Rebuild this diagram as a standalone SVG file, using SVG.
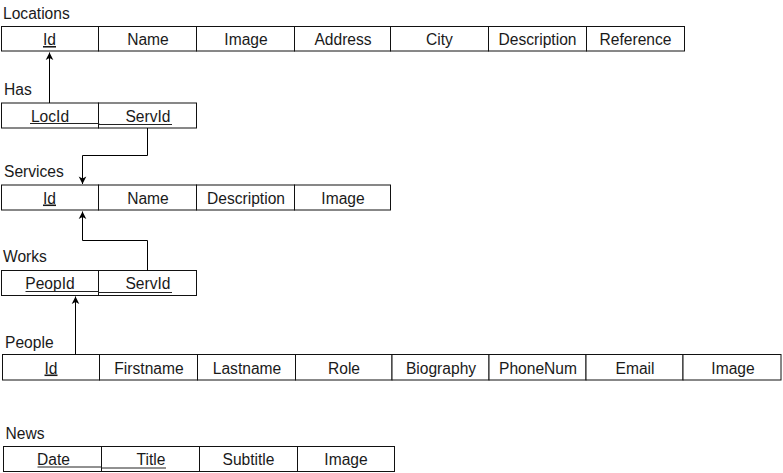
<svg xmlns="http://www.w3.org/2000/svg" width="783" height="473" viewBox="0 0 783 473">
<style>
.cell{fill:#fff;stroke:#111;stroke-width:1}
.t{font-family:"Liberation Sans",Arial,sans-serif;font-size:15.6px;fill:#1a1a1a;text-anchor:middle}
.lbl{font-family:"Liberation Sans",Arial,sans-serif;font-size:15.6px;fill:#1a1a1a}
.u{text-decoration:underline}
.ul{stroke:#222;stroke-width:1;fill:none}
.con{stroke:#000;stroke-width:1;fill:none;marker-end:url(#arr)}
</style>
<defs>
<marker id="arr" viewBox="-9 -5 10 10" refX="0" refY="0" markerWidth="10" markerHeight="10" markerUnits="userSpaceOnUse" orient="auto">
<path d="M0,0 L-7.5,-3.8 L-5.5,0 L-7.5,3.8 Z" fill="#000"/>
</marker>
</defs>
<rect width="783" height="473" fill="#fff"/>

<g id="locations">
<text class="lbl" x="3" y="18.5">Locations</text>
<rect class="cell" x="1.5" y="26.5" width="97" height="24.5"/>
<rect class="cell" x="98.5" y="26.5" width="98" height="24.5"/>
<rect class="cell" x="196.5" y="26.5" width="98" height="24.5"/>
<rect class="cell" x="294.5" y="26.5" width="96" height="24.5"/>
<rect class="cell" x="390.5" y="26.5" width="98" height="24.5"/>
<rect class="cell" x="488.5" y="26.5" width="98" height="24.5"/>
<rect class="cell" x="586.5" y="26.5" width="98" height="24.5"/>
<text class="t u" x="49.5" y="45">Id</text>
<text class="t" x="148" y="45">Name</text>
<text class="t" x="246" y="45">Image</text>
<text class="t" x="343" y="45">Address</text>
<text class="t" x="439.5" y="45">City</text>
<text class="t" x="537.5" y="45">Description</text>
<text class="t" x="635.5" y="45">Reference</text>
</g>

<g id="has">
<text class="lbl" x="4" y="95">Has</text>
<rect class="cell" x="1.5" y="103" width="97" height="25"/>
<rect class="cell" x="98.5" y="103" width="98" height="25"/>
<text class="t" x="50" y="121.5">LocId</text>
<text class="t" x="148" y="121.5">ServId</text>
<polyline class="ul" points="30,123.5 99,123.5 99,124.5 172,124.5"/>
</g>

<g id="services">
<text class="lbl" x="4" y="177">Services</text>
<rect class="cell" x="1.5" y="185" width="97" height="25"/>
<rect class="cell" x="98.5" y="185" width="98" height="25"/>
<rect class="cell" x="196.5" y="185" width="98" height="25"/>
<rect class="cell" x="294.5" y="185" width="96" height="25"/>
<text class="t u" x="49.5" y="203.5">Id</text>
<text class="t" x="148" y="203.5">Name</text>
<text class="t" x="246" y="203.5">Description</text>
<text class="t" x="343" y="203.5">Image</text>
</g>

<g id="works">
<text class="lbl" x="3" y="262">Works</text>
<rect class="cell" x="1.5" y="270.5" width="97" height="25"/>
<rect class="cell" x="98.5" y="270.5" width="98" height="25"/>
<text class="t" x="50" y="289">PeopId</text>
<text class="t" x="148" y="289">ServId</text>
<polyline class="ul" points="25.5,291.5 98.5,291.5 98.5,292.5 172,292.5"/>
</g>

<g id="people">
<text class="lbl" x="5" y="348">People</text>
<rect class="cell" x="2.5" y="354.5" width="97" height="25.5"/>
<rect class="cell" x="99.5" y="354.5" width="98" height="25.5"/>
<rect class="cell" x="197.5" y="354.5" width="98" height="25.5"/>
<rect class="cell" x="295.5" y="354.5" width="96.5" height="25.5"/>
<rect class="cell" x="392" y="354.5" width="97" height="25.5"/>
<rect class="cell" x="489" y="354.5" width="97" height="25.5"/>
<rect class="cell" x="586" y="354.5" width="97" height="25.5"/>
<rect class="cell" x="683" y="354.5" width="98" height="25.5"/>
<text class="t u" x="51" y="373.5">Id</text>
<text class="t" x="149" y="373.5">Firstname</text>
<text class="t" x="247" y="373.5">Lastname</text>
<text class="t" x="344" y="373.5">Role</text>
<text class="t" x="441" y="373.5">Biography</text>
<text class="t" x="538" y="373.5">PhoneNum</text>
<text class="t" x="635" y="373.5">Email</text>
<text class="t" x="733" y="373.5">Image</text>
</g>

<g id="news">
<text class="lbl" x="5.5" y="438.5">News</text>
<rect class="cell" x="3.5" y="446.5" width="98" height="25"/>
<rect class="cell" x="101.5" y="446.5" width="98" height="25"/>
<rect class="cell" x="199.5" y="446.5" width="98" height="25"/>
<rect class="cell" x="297.5" y="446.5" width="97" height="25"/>
<text class="t" x="53.5" y="465">Date</text>
<text class="t" x="151" y="465">Title</text>
<text class="t" x="248.5" y="465">Subtitle</text>
<text class="t" x="346" y="465">Image</text>
<polyline class="ul" points="37.5,467 101.5,467 101.5,468 166,468"/>
</g>

<g id="connectors">
<path class="con" d="M49.5,103 V52.5"/>
<path class="con" d="M147.5,128 V155.5 H82.5 V184"/>
<path class="con" d="M147.5,270.5 V240.5 H82.5 V211.5"/>
<path class="con" d="M75.5,354.5 V296.5"/>
</g>
</svg>
